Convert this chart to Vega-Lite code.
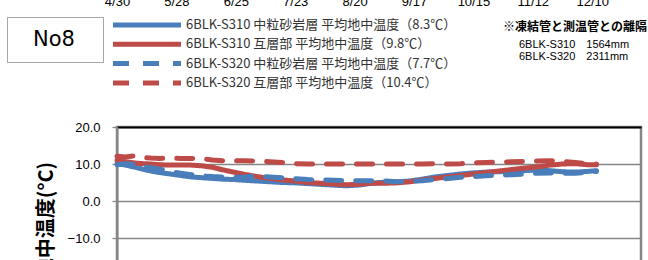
{
  "$schema": "https://vega.github.io/schema/vega-lite/v6.json",
  "width": 524,
  "height": 185,
  "autosize": {"type": "none"},
  "padding": {"left": 117, "top": 127, "right": 7, "bottom": 0},
  "background": "white",
  "config": {
    "view": {"stroke": "#868686", "strokeWidth": 2.5},
    "font": "Liberation Sans"
  },
  "datasets": {
    "temps": [
      {"date": "2014-04-30", "series": "6BLK-S310 中粒砂岩層 平均地中温度（8.3℃）", "temp": 10.1},
      {"date": "2014-05-04", "series": "6BLK-S310 中粒砂岩層 平均地中温度（8.3℃）", "temp": 9.7},
      {"date": "2014-05-08", "series": "6BLK-S310 中粒砂岩層 平均地中温度（8.3℃）", "temp": 9.2},
      {"date": "2014-05-12", "series": "6BLK-S310 中粒砂岩層 平均地中温度（8.3℃）", "temp": 8.6},
      {"date": "2014-05-16", "series": "6BLK-S310 中粒砂岩層 平均地中温度（8.3℃）", "temp": 8.1},
      {"date": "2014-05-20", "series": "6BLK-S310 中粒砂岩層 平均地中温度（8.3℃）", "temp": 7.7},
      {"date": "2014-05-25", "series": "6BLK-S310 中粒砂岩層 平均地中温度（8.3℃）", "temp": 7.3},
      {"date": "2014-05-30", "series": "6BLK-S310 中粒砂岩層 平均地中温度（8.3℃）", "temp": 6.9},
      {"date": "2014-06-04", "series": "6BLK-S310 中粒砂岩層 平均地中温度（8.3℃）", "temp": 6.5},
      {"date": "2014-06-09", "series": "6BLK-S310 中粒砂岩層 平均地中温度（8.3℃）", "temp": 6.3},
      {"date": "2014-06-14", "series": "6BLK-S310 中粒砂岩層 平均地中温度（8.3℃）", "temp": 6.1},
      {"date": "2014-06-19", "series": "6BLK-S310 中粒砂岩層 平均地中温度（8.3℃）", "temp": 5.9},
      {"date": "2014-06-24", "series": "6BLK-S310 中粒砂岩層 平均地中温度（8.3℃）", "temp": 5.8},
      {"date": "2014-06-29", "series": "6BLK-S310 中粒砂岩層 平均地中温度（8.3℃）", "temp": 5.6},
      {"date": "2014-07-05", "series": "6BLK-S310 中粒砂岩層 平均地中温度（8.3℃）", "temp": 5.4},
      {"date": "2014-07-11", "series": "6BLK-S310 中粒砂岩層 平均地中温度（8.3℃）", "temp": 5.2},
      {"date": "2014-07-17", "series": "6BLK-S310 中粒砂岩層 平均地中温度（8.3℃）", "temp": 5.0},
      {"date": "2014-07-23", "series": "6BLK-S310 中粒砂岩層 平均地中温度（8.3℃）", "temp": 4.9},
      {"date": "2014-07-29", "series": "6BLK-S310 中粒砂岩層 平均地中温度（8.3℃）", "temp": 4.7},
      {"date": "2014-08-04", "series": "6BLK-S310 中粒砂岩層 平均地中温度（8.3℃）", "temp": 4.5},
      {"date": "2014-08-10", "series": "6BLK-S310 中粒砂岩層 平均地中温度（8.3℃）", "temp": 4.3},
      {"date": "2014-08-16", "series": "6BLK-S310 中粒砂岩層 平均地中温度（8.3℃）", "temp": 4.1},
      {"date": "2014-08-22", "series": "6BLK-S310 中粒砂岩層 平均地中温度（8.3℃）", "temp": 4.3},
      {"date": "2014-08-28", "series": "6BLK-S310 中粒砂岩層 平均地中温度（8.3℃）", "temp": 4.8},
      {"date": "2014-09-03", "series": "6BLK-S310 中粒砂岩層 平均地中温度（8.3℃）", "temp": 5.1},
      {"date": "2014-09-09", "series": "6BLK-S310 中粒砂岩層 平均地中温度（8.3℃）", "temp": 5.2},
      {"date": "2014-09-15", "series": "6BLK-S310 中粒砂岩層 平均地中温度（8.3℃）", "temp": 5.4},
      {"date": "2014-09-21", "series": "6BLK-S310 中粒砂岩層 平均地中温度（8.3℃）", "temp": 5.9},
      {"date": "2014-09-27", "series": "6BLK-S310 中粒砂岩層 平均地中温度（8.3℃）", "temp": 6.5},
      {"date": "2014-10-03", "series": "6BLK-S310 中粒砂岩層 平均地中温度（8.3℃）", "temp": 6.9},
      {"date": "2014-10-09", "series": "6BLK-S310 中粒砂岩層 平均地中温度（8.3℃）", "temp": 7.3},
      {"date": "2014-10-15", "series": "6BLK-S310 中粒砂岩層 平均地中温度（8.3℃）", "temp": 7.6},
      {"date": "2014-10-21", "series": "6BLK-S310 中粒砂岩層 平均地中温度（8.3℃）", "temp": 7.8},
      {"date": "2014-10-27", "series": "6BLK-S310 中粒砂岩層 平均地中温度（8.3℃）", "temp": 7.9},
      {"date": "2014-11-02", "series": "6BLK-S310 中粒砂岩層 平均地中温度（8.3℃）", "temp": 8.1},
      {"date": "2014-11-08", "series": "6BLK-S310 中粒砂岩層 平均地中温度（8.3℃）", "temp": 8.2},
      {"date": "2014-11-14", "series": "6BLK-S310 中粒砂岩層 平均地中温度（8.3℃）", "temp": 8.4},
      {"date": "2014-11-20", "series": "6BLK-S310 中粒砂岩層 平均地中温度（8.3℃）", "temp": 8.2},
      {"date": "2014-11-26", "series": "6BLK-S310 中粒砂岩層 平均地中温度（8.3℃）", "temp": 7.9},
      {"date": "2014-12-02", "series": "6BLK-S310 中粒砂岩層 平均地中温度（8.3℃）", "temp": 7.8},
      {"date": "2014-12-08", "series": "6BLK-S310 中粒砂岩層 平均地中温度（8.3℃）", "temp": 8.0},
      {"date": "2014-12-12", "series": "6BLK-S310 中粒砂岩層 平均地中温度（8.3℃）", "temp": 8.2},

      {"date": "2014-04-30", "series": "6BLK-S310 互層部 平均地中温度（9.8℃）", "temp": 11.0},
      {"date": "2014-05-04", "series": "6BLK-S310 互層部 平均地中温度（9.8℃）", "temp": 10.6},
      {"date": "2014-05-08", "series": "6BLK-S310 互層部 平均地中温度（9.8℃）", "temp": 10.3},
      {"date": "2014-05-12", "series": "6BLK-S310 互層部 平均地中温度（9.8℃）", "temp": 10.1},
      {"date": "2014-05-16", "series": "6BLK-S310 互層部 平均地中温度（9.8℃）", "temp": 10.0},
      {"date": "2014-05-20", "series": "6BLK-S310 互層部 平均地中温度（9.8℃）", "temp": 9.8},
      {"date": "2014-05-25", "series": "6BLK-S310 互層部 平均地中温度（9.8℃）", "temp": 9.7},
      {"date": "2014-05-30", "series": "6BLK-S310 互層部 平均地中温度（9.8℃）", "temp": 9.7},
      {"date": "2014-06-04", "series": "6BLK-S310 互層部 平均地中温度（9.8℃）", "temp": 9.7},
      {"date": "2014-06-09", "series": "6BLK-S310 互層部 平均地中温度（9.8℃）", "temp": 9.5},
      {"date": "2014-06-14", "series": "6BLK-S310 互層部 平均地中温度（9.8℃）", "temp": 9.1},
      {"date": "2014-06-19", "series": "6BLK-S310 互層部 平均地中温度（9.8℃）", "temp": 8.4},
      {"date": "2014-06-24", "series": "6BLK-S310 互層部 平均地中温度（9.8℃）", "temp": 7.8},
      {"date": "2014-06-29", "series": "6BLK-S310 互層部 平均地中温度（9.8℃）", "temp": 7.2},
      {"date": "2014-07-05", "series": "6BLK-S310 互層部 平均地中温度（9.8℃）", "temp": 6.6},
      {"date": "2014-07-11", "series": "6BLK-S310 互層部 平均地中温度（9.8℃）", "temp": 6.1},
      {"date": "2014-07-17", "series": "6BLK-S310 互層部 平均地中温度（9.8℃）", "temp": 5.7},
      {"date": "2014-07-23", "series": "6BLK-S310 互層部 平均地中温度（9.8℃）", "temp": 5.4},
      {"date": "2014-07-29", "series": "6BLK-S310 互層部 平均地中温度（9.8℃）", "temp": 5.0},
      {"date": "2014-08-04", "series": "6BLK-S310 互層部 平均地中温度（9.8℃）", "temp": 4.8},
      {"date": "2014-08-10", "series": "6BLK-S310 互層部 平均地中温度（9.8℃）", "temp": 4.6},
      {"date": "2014-08-16", "series": "6BLK-S310 互層部 平均地中温度（9.8℃）", "temp": 4.4},
      {"date": "2014-08-22", "series": "6BLK-S310 互層部 平均地中温度（9.8℃）", "temp": 4.5},
      {"date": "2014-08-28", "series": "6BLK-S310 互層部 平均地中温度（9.8℃）", "temp": 4.8},
      {"date": "2014-09-03", "series": "6BLK-S310 互層部 平均地中温度（9.8℃）", "temp": 4.8},
      {"date": "2014-09-09", "series": "6BLK-S310 互層部 平均地中温度（9.8℃）", "temp": 4.9},
      {"date": "2014-09-15", "series": "6BLK-S310 互層部 平均地中温度（9.8℃）", "temp": 5.2},
      {"date": "2014-09-21", "series": "6BLK-S310 互層部 平均地中温度（9.8℃）", "temp": 5.7},
      {"date": "2014-09-27", "series": "6BLK-S310 互層部 平均地中温度（9.8℃）", "temp": 6.1},
      {"date": "2014-10-03", "series": "6BLK-S310 互層部 平均地中温度（9.8℃）", "temp": 6.5},
      {"date": "2014-10-09", "series": "6BLK-S310 互層部 平均地中温度（9.8℃）", "temp": 6.9},
      {"date": "2014-10-15", "series": "6BLK-S310 互層部 平均地中温度（9.8℃）", "temp": 7.3},
      {"date": "2014-10-21", "series": "6BLK-S310 互層部 平均地中温度（9.8℃）", "temp": 7.7},
      {"date": "2014-10-27", "series": "6BLK-S310 互層部 平均地中温度（9.8℃）", "temp": 8.1},
      {"date": "2014-11-02", "series": "6BLK-S310 互層部 平均地中温度（9.8℃）", "temp": 8.5},
      {"date": "2014-11-08", "series": "6BLK-S310 互層部 平均地中温度（9.8℃）", "temp": 8.9},
      {"date": "2014-11-14", "series": "6BLK-S310 互層部 平均地中温度（9.8℃）", "temp": 9.2},
      {"date": "2014-11-20", "series": "6BLK-S310 互層部 平均地中温度（9.8℃）", "temp": 9.7},
      {"date": "2014-11-26", "series": "6BLK-S310 互層部 平均地中温度（9.8℃）", "temp": 10.0},
      {"date": "2014-12-02", "series": "6BLK-S310 互層部 平均地中温度（9.8℃）", "temp": 10.1},
      {"date": "2014-12-08", "series": "6BLK-S310 互層部 平均地中温度（9.8℃）", "temp": 9.8},
      {"date": "2014-12-12", "series": "6BLK-S310 互層部 平均地中温度（9.8℃）", "temp": 9.8},

      {"date": "2014-04-30", "series": "6BLK-S320 中粒砂岩層 平均地中温度（7.7℃）", "temp": 9.8},
      {"date": "2014-05-04", "series": "6BLK-S320 中粒砂岩層 平均地中温度（7.7℃）", "temp": 10.1},
      {"date": "2014-05-08", "series": "6BLK-S320 中粒砂岩層 平均地中温度（7.7℃）", "temp": 9.9},
      {"date": "2014-05-12", "series": "6BLK-S320 中粒砂岩層 平均地中温度（7.7℃）", "temp": 9.4},
      {"date": "2014-05-16", "series": "6BLK-S320 中粒砂岩層 平均地中温度（7.7℃）", "temp": 9.0},
      {"date": "2014-05-20", "series": "6BLK-S320 中粒砂岩層 平均地中温度（7.7℃）", "temp": 8.6},
      {"date": "2014-05-25", "series": "6BLK-S320 中粒砂岩層 平均地中温度（7.7℃）", "temp": 8.0},
      {"date": "2014-05-30", "series": "6BLK-S320 中粒砂岩層 平均地中温度（7.7℃）", "temp": 7.5},
      {"date": "2014-06-04", "series": "6BLK-S320 中粒砂岩層 平均地中温度（7.7℃）", "temp": 7.1},
      {"date": "2014-06-09", "series": "6BLK-S320 中粒砂岩層 平均地中温度（7.7℃）", "temp": 6.8},
      {"date": "2014-06-14", "series": "6BLK-S320 中粒砂岩層 平均地中温度（7.7℃）", "temp": 6.6},
      {"date": "2014-06-19", "series": "6BLK-S320 中粒砂岩層 平均地中温度（7.7℃）", "temp": 6.5},
      {"date": "2014-06-24", "series": "6BLK-S320 中粒砂岩層 平均地中温度（7.7℃）", "temp": 6.4},
      {"date": "2014-06-29", "series": "6BLK-S320 中粒砂岩層 平均地中温度（7.7℃）", "temp": 6.5},
      {"date": "2014-07-05", "series": "6BLK-S320 中粒砂岩層 平均地中温度（7.7℃）", "temp": 6.7},
      {"date": "2014-07-11", "series": "6BLK-S320 中粒砂岩層 平均地中温度（7.7℃）", "temp": 6.5},
      {"date": "2014-07-17", "series": "6BLK-S320 中粒砂岩層 平均地中温度（7.7℃）", "temp": 6.3},
      {"date": "2014-07-23", "series": "6BLK-S320 中粒砂岩層 平均地中温度（7.7℃）", "temp": 6.0},
      {"date": "2014-07-29", "series": "6BLK-S320 中粒砂岩層 平均地中温度（7.7℃）", "temp": 5.8},
      {"date": "2014-08-04", "series": "6BLK-S320 中粒砂岩層 平均地中温度（7.7℃）", "temp": 5.7},
      {"date": "2014-08-10", "series": "6BLK-S320 中粒砂岩層 平均地中温度（7.7℃）", "temp": 5.6},
      {"date": "2014-08-16", "series": "6BLK-S320 中粒砂岩層 平均地中温度（7.7℃）", "temp": 5.5},
      {"date": "2014-08-22", "series": "6BLK-S320 中粒砂岩層 平均地中温度（7.7℃）", "temp": 5.5},
      {"date": "2014-08-28", "series": "6BLK-S320 中粒砂岩層 平均地中温度（7.7℃）", "temp": 5.5},
      {"date": "2014-09-03", "series": "6BLK-S320 中粒砂岩層 平均地中温度（7.7℃）", "temp": 5.4},
      {"date": "2014-09-09", "series": "6BLK-S320 中粒砂岩層 平均地中温度（7.7℃）", "temp": 5.2},
      {"date": "2014-09-15", "series": "6BLK-S320 中粒砂岩層 平均地中温度（7.7℃）", "temp": 5.3},
      {"date": "2014-09-21", "series": "6BLK-S320 中粒砂岩層 平均地中温度（7.7℃）", "temp": 5.5},
      {"date": "2014-09-27", "series": "6BLK-S320 中粒砂岩層 平均地中温度（7.7℃）", "temp": 5.8},
      {"date": "2014-10-03", "series": "6BLK-S320 中粒砂岩層 平均地中温度（7.7℃）", "temp": 6.1},
      {"date": "2014-10-09", "series": "6BLK-S320 中粒砂岩層 平均地中温度（7.7℃）", "temp": 6.4},
      {"date": "2014-10-15", "series": "6BLK-S320 中粒砂岩層 平均地中温度（7.7℃）", "temp": 6.6},
      {"date": "2014-10-21", "series": "6BLK-S320 中粒砂岩層 平均地中温度（7.7℃）", "temp": 6.8},
      {"date": "2014-10-27", "series": "6BLK-S320 中粒砂岩層 平均地中温度（7.7℃）", "temp": 7.0},
      {"date": "2014-11-02", "series": "6BLK-S320 中粒砂岩層 平均地中温度（7.7℃）", "temp": 7.1},
      {"date": "2014-11-08", "series": "6BLK-S320 中粒砂岩層 平均地中温度（7.7℃）", "temp": 7.3},
      {"date": "2014-11-14", "series": "6BLK-S320 中粒砂岩層 平均地中温度（7.7℃）", "temp": 7.5},
      {"date": "2014-11-20", "series": "6BLK-S320 中粒砂岩層 平均地中温度（7.7℃）", "temp": 7.6},
      {"date": "2014-11-26", "series": "6BLK-S320 中粒砂岩層 平均地中温度（7.7℃）", "temp": 7.5},
      {"date": "2014-12-02", "series": "6BLK-S320 中粒砂岩層 平均地中温度（7.7℃）", "temp": 7.5},
      {"date": "2014-12-08", "series": "6BLK-S320 中粒砂岩層 平均地中温度（7.7℃）", "temp": 7.8},
      {"date": "2014-12-12", "series": "6BLK-S320 中粒砂岩層 平均地中温度（7.7℃）", "temp": 8.0},

      {"date": "2014-04-30", "series": "6BLK-S320 互層部 平均地中温度（10.4℃）", "temp": 12.1},
      {"date": "2014-05-04", "series": "6BLK-S320 互層部 平均地中温度（10.4℃）", "temp": 11.9},
      {"date": "2014-05-08", "series": "6BLK-S320 互層部 平均地中温度（10.4℃）", "temp": 12.2},
      {"date": "2014-05-12", "series": "6BLK-S320 互層部 平均地中温度（10.4℃）", "temp": 11.8},
      {"date": "2014-05-16", "series": "6BLK-S320 互層部 平均地中温度（10.4℃）", "temp": 11.6},
      {"date": "2014-05-20", "series": "6BLK-S320 互層部 平均地中温度（10.4℃）", "temp": 11.5},
      {"date": "2014-05-25", "series": "6BLK-S320 互層部 平均地中温度（10.4℃）", "temp": 11.6},
      {"date": "2014-05-30", "series": "6BLK-S320 互層部 平均地中温度（10.4℃）", "temp": 11.5},
      {"date": "2014-06-04", "series": "6BLK-S320 互層部 平均地中温度（10.4℃）", "temp": 11.5},
      {"date": "2014-06-09", "series": "6BLK-S320 互層部 平均地中温度（10.4℃）", "temp": 11.4},
      {"date": "2014-06-14", "series": "6BLK-S320 互層部 平均地中温度（10.4℃）", "temp": 11.1},
      {"date": "2014-06-19", "series": "6BLK-S320 互層部 平均地中温度（10.4℃）", "temp": 10.9},
      {"date": "2014-06-24", "series": "6BLK-S320 互層部 平均地中温度（10.4℃）", "temp": 10.9},
      {"date": "2014-06-29", "series": "6BLK-S320 互層部 平均地中温度（10.4℃）", "temp": 10.9},
      {"date": "2014-07-05", "series": "6BLK-S320 互層部 平均地中温度（10.4℃）", "temp": 10.8},
      {"date": "2014-07-11", "series": "6BLK-S320 互層部 平均地中温度（10.4℃）", "temp": 10.6},
      {"date": "2014-07-17", "series": "6BLK-S320 互層部 平均地中温度（10.4℃）", "temp": 10.4},
      {"date": "2014-07-23", "series": "6BLK-S320 互層部 平均地中温度（10.4℃）", "temp": 10.1},
      {"date": "2014-07-29", "series": "6BLK-S320 互層部 平均地中温度（10.4℃）", "temp": 10.0},
      {"date": "2014-08-04", "series": "6BLK-S320 互層部 平均地中温度（10.4℃）", "temp": 10.0},
      {"date": "2014-08-10", "series": "6BLK-S320 互層部 平均地中温度（10.4℃）", "temp": 10.0},
      {"date": "2014-08-16", "series": "6BLK-S320 互層部 平均地中温度（10.4℃）", "temp": 10.0},
      {"date": "2014-08-22", "series": "6BLK-S320 互層部 平均地中温度（10.4℃）", "temp": 10.0},
      {"date": "2014-08-28", "series": "6BLK-S320 互層部 平均地中温度（10.4℃）", "temp": 10.0},
      {"date": "2014-09-03", "series": "6BLK-S320 互層部 平均地中温度（10.4℃）", "temp": 10.0},
      {"date": "2014-09-09", "series": "6BLK-S320 互層部 平均地中温度（10.4℃）", "temp": 10.0},
      {"date": "2014-09-15", "series": "6BLK-S320 互層部 平均地中温度（10.4℃）", "temp": 10.0},
      {"date": "2014-09-21", "series": "6BLK-S320 互層部 平均地中温度（10.4℃）", "temp": 10.0},
      {"date": "2014-09-27", "series": "6BLK-S320 互層部 平均地中温度（10.4℃）", "temp": 10.1},
      {"date": "2014-10-03", "series": "6BLK-S320 互層部 平均地中温度（10.4℃）", "temp": 10.0},
      {"date": "2014-10-09", "series": "6BLK-S320 互層部 平均地中温度（10.4℃）", "temp": 10.1},
      {"date": "2014-10-15", "series": "6BLK-S320 互層部 平均地中温度（10.4℃）", "temp": 10.3},
      {"date": "2014-10-21", "series": "6BLK-S320 互層部 平均地中温度（10.4℃）", "temp": 10.4},
      {"date": "2014-10-27", "series": "6BLK-S320 互層部 平均地中温度（10.4℃）", "temp": 10.5},
      {"date": "2014-11-02", "series": "6BLK-S320 互層部 平均地中温度（10.4℃）", "temp": 10.6},
      {"date": "2014-11-08", "series": "6BLK-S320 互層部 平均地中温度（10.4℃）", "temp": 10.7},
      {"date": "2014-11-14", "series": "6BLK-S320 互層部 平均地中温度（10.4℃）", "temp": 10.8},
      {"date": "2014-11-20", "series": "6BLK-S320 互層部 平均地中温度（10.4℃）", "temp": 10.9},
      {"date": "2014-11-26", "series": "6BLK-S320 互層部 平均地中温度（10.4℃）", "temp": 10.7},
      {"date": "2014-12-02", "series": "6BLK-S320 互層部 平均地中温度（10.4℃）", "temp": 10.4},
      {"date": "2014-12-08", "series": "6BLK-S320 互層部 平均地中温度（10.4℃）", "temp": 10.1},
      {"date": "2014-12-12", "series": "6BLK-S320 互層部 平均地中温度（10.4℃）", "temp": 10.0}
    ],
    "panel": [{"panel": "No8"}],
    "notes": [{"note": "6BLK-S310　1564mm"}, {"note": "6BLK-S320　2311mm"}]
  },
  "layer": [
    {
      "data": {"name": "temps"},
      "mark": {"type": "line", "strokeWidth": 5, "strokeCap": "round", "strokeJoin": "round"},
      "encoding": {
        "x": {
          "field": "date",
          "type": "temporal",
          "scale": {
            "type": "utc",
            "domain": [
              {"year": 2014, "month": 4, "date": 30, "utc": true},
              {"year": 2015, "month": 1, "date": 2, "utc": true}
            ]
          },
          "axis": {
            "orient": "top",
            "offset": 119,
            "title": null,
            "domain": false,
            "ticks": false,
            "tickSize": 0,
            "grid": false,
            "labelPadding": 0,
            "labelFont": "Liberation Sans",
            "labelFontSize": 13,
            "labelColor": "#000000",
            "labelOverlap": false,
            "labelBound": false,
            "labelFlush": false,
            "format": "%-m/%-d",
            "values": [
              {"year": 2014, "month": 4, "date": 30, "utc": true},
              {"year": 2014, "month": 5, "date": 28, "utc": true},
              {"year": 2014, "month": 6, "date": 25, "utc": true},
              {"year": 2014, "month": 7, "date": 23, "utc": true},
              {"year": 2014, "month": 8, "date": 20, "utc": true},
              {"year": 2014, "month": 9, "date": 17, "utc": true},
              {"year": 2014, "month": 10, "date": 15, "utc": true},
              {"year": 2014, "month": 11, "date": 12, "utc": true},
              {"year": 2014, "month": 12, "date": 10, "utc": true}
            ]
          }
        },
        "y": {
          "field": "temp",
          "type": "quantitative",
          "scale": {"domain": [-30, 20], "nice": false, "zero": false},
          "axis": {
            "title": "地中温度(°C)",
            "titleFont": "Noto Sans CJK JP",
            "titleFontSize": 20,
            "titleFontWeight": "bold",
            "titleColor": "#000000",
            "titlePadding": 11,
            "values": [20, 10, 0, -10, -20, -30],
            "format": ".1f",
            "labelFont": "Liberation Sans",
            "labelFontSize": 13,
            "labelColor": "#000000",
            "labelPadding": 12,
            "domainColor": "#868686",
            "domainWidth": 2,
            "tickColor": "#868686",
            "tickSize": 5,
            "tickWidth": 1.3,
            "grid": true,
            "gridColor": {"condition": {"test": "datum.value === 20", "value": "#000000"}, "value": "#868686"},
            "gridWidth": {"condition": {"test": "datum.value === 20", "value": 2}, "value": 1.3}
          }
        },
        "color": {
          "field": "series",
          "type": "nominal",
          "scale": {
            "domain": [
              "6BLK-S310 中粒砂岩層 平均地中温度（8.3℃）",
              "6BLK-S310 互層部 平均地中温度（9.8℃）",
              "6BLK-S320 中粒砂岩層 平均地中温度（7.7℃）",
              "6BLK-S320 互層部 平均地中温度（10.4℃）"
            ],
            "range": ["#4A7EBB", "#BE4B48", "#4A7EBB", "#BE4B48"]
          },
          "legend": {
            "orient": "none",
            "legendX": 23.5,
            "legendY": -108.5,
            "title": null,
            "padding": 0,
            "symbolType": "M-8.5,0H8.5",
            "symbolSize": 64,
            "symbolStrokeWidth": 5,
            "labelOffset": 32.5,
            "rowPadding": -1.7,
            "labelFont": "Noto Sans CJK JP",
            "labelFontSize": 13,
            "labelColor": "#333333",
            "labelLimit": 400
          }
        },
        "strokeDash": {
          "field": "series",
          "type": "nominal",
          "scale": {
            "domain": [
              "6BLK-S310 中粒砂岩層 平均地中温度（8.3℃）",
              "6BLK-S310 互層部 平均地中温度（9.8℃）",
              "6BLK-S320 中粒砂岩層 平均地中温度（7.7℃）",
              "6BLK-S320 互層部 平均地中温度（10.4℃）"
            ],
            "range": [[1, 0], [1, 0], [16, 14], [16, 14]]
          }
        }
      }
    },
    {
      "data": {"name": "panel"},
      "mark": {"type": "point", "size": 0, "strokeWidth": 0},
      "encoding": {
        "opacity": {
          "field": "panel",
          "type": "ordinal",
          "scale": {"range": [0]},
          "legend": {
            "orient": "none",
            "legendX": -110,
            "legendY": -110,
            "title": null,
            "padding": 12,
            "strokeColor": "#A6A6A6",
            "symbolSize": 0,
            "symbolOpacity": 0,
            "labelOffset": -7,
            "labelFont": "DejaVu Sans",
            "labelFontSize": 21,
            "labelColor": "#000000",
            "labelExpr": "datum.label + '\u2800'"
          }
        }
      }
    },
    {
      "data": {"name": "notes"},
      "mark": {"type": "point", "opacity": 0, "size": 0, "strokeWidth": 0},
      "encoding": {
        "shape": {
          "field": "note",
          "type": "nominal",
          "scale": {"range": ["circle"]},
          "legend": {
            "orient": "none",
            "legendX": 386,
            "legendY": -105,
            "title": "※凍結管と測温管との離隔",
            "titleFont": "Noto Sans CJK JP",
            "titleFontSize": 12,
            "titleFontWeight": "bold",
            "titleColor": "#000000",
            "titlePadding": 5,
            "titleLimit": 400,
            "padding": 0,
            "symbolSize": 0,
            "symbolOpacity": 0,
            "symbolStrokeWidth": 0,
            "labelOffset": 5,
            "rowPadding": 0,
            "labelFont": "Liberation Sans",
            "labelFontSize": 11,
            "labelColor": "#000000"
          }
        }
      }
    }
  ]
}
